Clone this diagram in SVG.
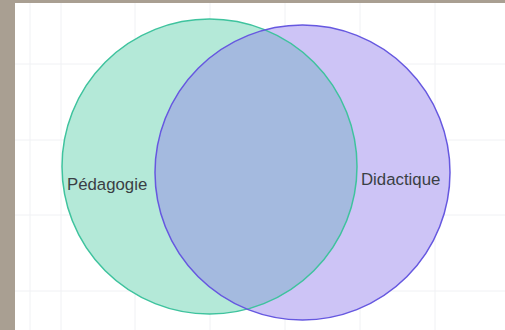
<svg xmlns="http://www.w3.org/2000/svg" width="505" height="330" viewBox="0 0 505 330">
<style>
.grid{stroke:#f0f1f4;stroke-width:1;fill:none}
.lbl{font-family:"Liberation Sans",Arial,sans-serif;font-size:16.8px;fill:#3a3f44}
</style>
<defs>
<clipPath id="clipG"><circle cx="209.5" cy="166.5" r="147.5"/></clipPath>
</defs>
<rect x="0" y="0" width="505" height="330" fill="#a99f92"/>
<rect x="15" y="3" width="490" height="327" fill="#ffffff"/>
<g class="grid">
<path d="M30 3V330M61 3V330M135 3V330M210 3V330M285 3V330M360 3V330M435 3V330M15 64H505M15 140H505M15 215H505M15 291H505"/>
</g>
<g id="pedagogie">
<circle cx="209.5" cy="166.5" r="147.5" fill="#b4e9d8"/>
</g>
<g id="didactique">
<circle cx="302.5" cy="172.5" r="147.5" fill="#cdc4f6"/>
</g>
<g id="intersection">
<circle cx="302.5" cy="172.5" r="147.5" fill="#a4badf" clip-path="url(#clipG)"/>
</g>
<g id="outlines" fill="none" stroke-width="1.5">
<circle cx="209.5" cy="166.5" r="147.5" stroke="#3fc39e"/>
<circle cx="302.5" cy="172.5" r="147.5" stroke="#6658e0"/>
</g>
<text class="lbl" x="67" y="189.5">Pédagogie</text>
<text class="lbl" x="361" y="184.5">Didactique</text>
</svg>
